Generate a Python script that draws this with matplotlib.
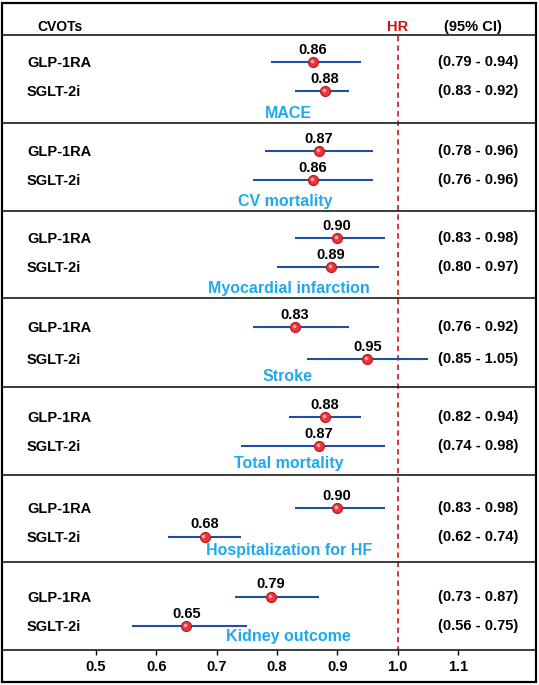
import numpy as np
import matplotlib
matplotlib.use("Agg")
import matplotlib.pyplot as plt

plt.rcParams['font.family'] = ['Liberation Sans', 'DejaVu Sans']
plt.rcParams['font.weight'] = 'bold'

# data
outcomes = ["MACE", "CV mortality", "Myocardial infarction", "Stroke",
            "Total mortality", "Hospitalization for HF", "Kidney outcome"]
drugs = ["GLP-1RA", "SGLT-2i"]
glp_hr = [0.86, 0.87, 0.90, 0.83, 0.88, 0.90, 0.79]
glp_lo = [0.79, 0.78, 0.83, 0.76, 0.82, 0.83, 0.73]
glp_hi = [0.94, 0.96, 0.98, 0.92, 0.94, 0.98, 0.87]
sglt_hr = [0.88, 0.86, 0.89, 0.95, 0.87, 0.68, 0.65]
sglt_lo = [0.83, 0.76, 0.80, 0.85, 0.74, 0.62, 0.56]
sglt_hi = [0.92, 0.96, 0.97, 1.05, 0.98, 0.74, 0.75]
xticks = [0.5, 0.6, 0.7, 0.8, 0.9, 1.0, 1.1]

# layout (pixel rows, y grows downward)
W, H = 539, 685
sep_y = [35, 123, 211, 298, 387, 475, 562, 650]
glp_y = [62, 151, 238, 327, 417, 508, 597]
sglt_y = [91, 180, 267, 359, 446, 537, 626]
label_y = [113, 201, 288, 376, 463, 550, 637]
label_px = [288, 285, 289, 288, 289, 289, 288]

line_col = '#1f4fa3'
lab_col = '#1fa9ec'
red = '#d8262c'

fig = plt.figure(figsize=(W / 100, H / 100), dpi=100)
ax = fig.add_axes([0, 0, 1, 1])
# x in HR units: 0.5 at px 96, 0.1 per 60.3 px
px_per = 603.0
x0 = 0.5 - 96 / px_per
x1 = 0.5 + (W - 96) / px_per
ax.set_xlim(x0, x1)
ax.set_ylim(H, 0)
ax.axis('off')


def px2x(p):
    return x0 + p / px_per


# frame and separators
ax.add_patch(plt.Rectangle((px2x(2.5), 2.5), (W - 6) / px_per, H - 6,
                           fill=False, edgecolor='black', lw=1.6, zorder=5))
ax.hlines(sep_y, px2x(2.5), px2x(W - 3.5), color='#1a1a1a', lw=1.2, zorder=5)

# reference line
ax.vlines(1.0, sep_y[0] + 1, sep_y[-1], color=red, lw=1.3,
          linestyles=(0, (3, 2.2)), zorder=1)

# header
ax.text(px2x(60), 27, "CVOTs", fontsize=10, ha='center', va='center')
ax.text(1.0, 27, "HR", fontsize=10.5, ha='center', va='center', color='#cc1418')
ax.text(px2x(473), 27, "(95% CI)", fontsize=10.5, ha='center', va='center')


def draw_row(y, hr, lo, hi):
    ax.hlines(y, lo, hi, color=line_col, lw=1.5, zorder=2)
    ax.plot(hr, y, 'o', ms=7.2, mfc='#e8363a', mec='#b51a1c', mew=0.8, zorder=3)
    ax.plot(hr - 1.3 / px_per, y - 1.3, 'o', ms=2.6, mfc='#ffb0b0', mec='none',
            alpha=0.9, zorder=4)
    ax.text(hr, y - 12.5, f"{hr:.2f}", fontsize=10.5, ha='center', va='center')
    ax.text(px2x(478), y, f"({lo:.2f} - {hi:.2f})", fontsize=10.5,
            ha='center', va='center')


for i, name in enumerate(outcomes):
    ax.text(px2x(27), glp_y[i] + 1, drugs[0], fontsize=10.5, ha='left', va='center')
    ax.text(px2x(27), sglt_y[i] + 1, drugs[1], fontsize=10.5, ha='left', va='center')
    draw_row(glp_y[i], glp_hr[i], glp_lo[i], glp_hi[i])
    draw_row(sglt_y[i], sglt_hr[i], sglt_lo[i], sglt_hi[i])
    ax.text(px2x(label_px[i]), label_y[i], name, fontsize=11.5, ha='center',
            va='center', color=lab_col)

# x axis row
ax.vlines(xticks, sep_y[-1], sep_y[-1] + 4.5, color='black', lw=1.0)
for t in xticks:
    ax.text(t, 667, f"{t:.1f}", fontsize=10.5, ha='center', va='center')

fig.savefig("out.png", dpi=100)
plt.close(fig)
